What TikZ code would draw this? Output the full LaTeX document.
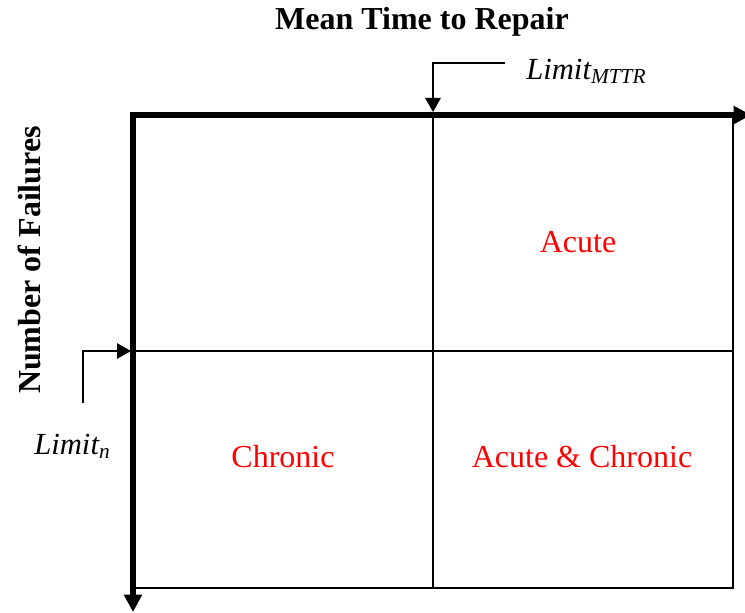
\documentclass[tikz,border=0pt]{standalone}
\usepackage{fontspec}
\setmainfont{Liberation Serif}
\usetikzlibrary{arrows.meta}
\tikzset{bigtip/.tip={Triangle[length=13pt,width=13pt]},
  smtip/.tip={Triangle[length=10.5pt,width=11.5pt]}}
\begin{document}
\begin{tikzpicture}[x=0.75pt,y=-0.75pt,
  axisline/.style={line width=4.2pt, line join=miter},
  thinline/.style={line width=1.3pt},
  smalltip/.style={-smtip},
  lbl/.style={font=\fontsize{23}{23}\selectfont, inner sep=0pt},
  quad/.style={lbl, font=\fontsize{24}{24}\selectfont, text=red},
  axislbl/.style={lbl, font=\fontsize{24}{24}\selectfont\bfseries}]
\clip (0,0) rectangle (745,613);
\useasboundingbox (0,0) rectangle (745,613);
% corners and points
\coordinate (tl) at (133,115);
\coordinate (tr) at (733,115);
\coordinate (br) at (733,588);
\coordinate (bl) at (133,588);
\coordinate (xend) at (751,115);
\coordinate (yend) at (133,612);
\coordinate (mt) at (433,115);
\coordinate (mb) at (433,588);
\coordinate (ml) at (133,351);
\coordinate (mr) at (733,351);
\coordinate (mttrstart) at (505,63);
\coordinate (mttrtip) at (433,112);
\coordinate (nstart) at (83,403);
\coordinate (ntip) at (131,351);
% box
\draw[thinline] (tr) -- (br) -- (bl);
\draw[thinline] (mt) -- (mb);
\draw[thinline] (ml) -- (mr);
% axes
\draw[axisline, bigtip-bigtip] (xend) -- (tl) -- (yend);
% limit arrows
\draw[thinline, smalltip] (mttrstart) -| (mttrtip);
\draw[thinline, smalltip] (nstart) |- (ntip);
% labels
\node[axislbl, anchor=base] (title) at (422,30) {Mean Time to Repair};
\node[axislbl, anchor=base, rotate=90] (ylabel) at (40,260) {Number of Failures};
\node[lbl, anchor=base west] (limmttr) at (526,80) {\itshape Limit{\fontsize{16}{16}\selectfont\raisebox{-3pt}{MTTR}}};
\node[lbl, anchor=base west] (limn) at (34,454) {\itshape Limit{\fontsize{16}{16}\selectfont\raisebox{-3pt}{n}}};
\node[quad, anchor=base] (acute) at (578,252) {Acute};
\node[quad, anchor=base] (chronic) at (283,467) {Chronic};
\node[quad, anchor=base] (both) at (582,467) {Acute \& Chronic};
\end{tikzpicture}
\end{document}
